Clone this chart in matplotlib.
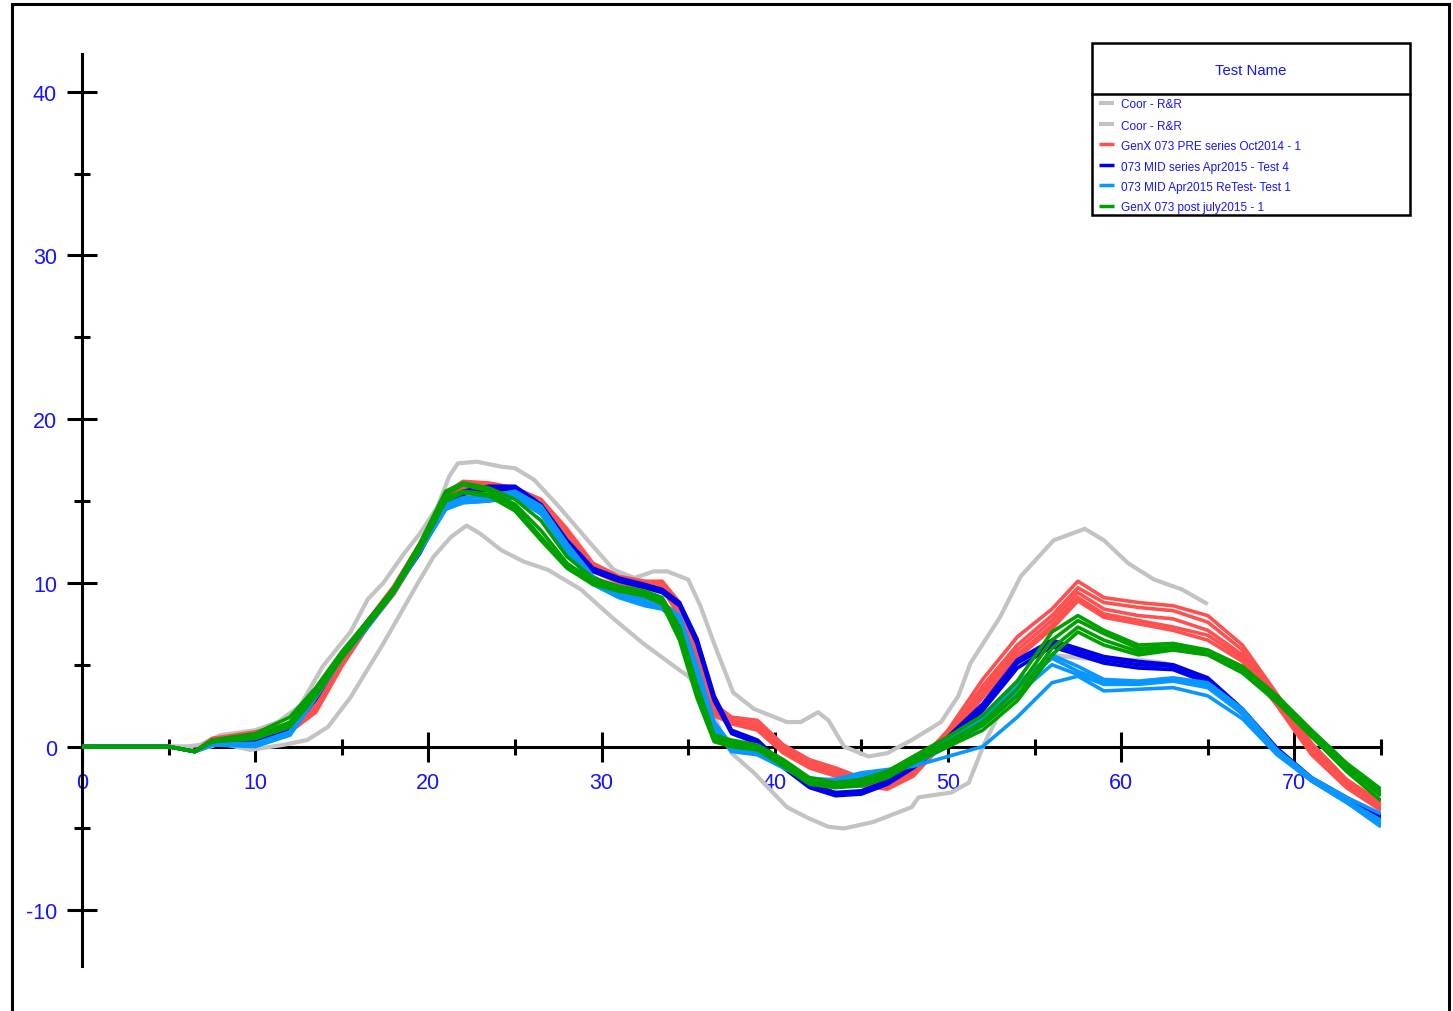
import matplotlib
matplotlib.use("Agg")
import matplotlib.pyplot as plt
from matplotlib.lines import Line2D
from matplotlib.patches import Rectangle
from matplotlib.ticker import MultipleLocator

plt.rcParams["font.family"] = ["Liberation Sans", "DejaVu Sans"]
plt.rcParams["axes.unicode_minus"] = False

W, H = 1453, 1012
TXT = "#1414ff"

# ---------------------------------------------------------------------
# Dades
# ---------------------------------------------------------------------

labels = [
    "Coor - R&R",
    "Coor - R&R",
    "GenX 073 PRE series Oct2014 - 1",
    "073 MID series Apr2015 - Test 4",
    "073 MID Apr2015 ReTest- Test 1",
    "GenX 073 post july2015 - 1",
]
colors = ["#c3c3c3", "#c3c3c3", "#ff5050", "#0000e8", "#0a96ff", "#00a000"]

# Corbes de referència (Coor - R&R)
coor_hi_x = [0, 6, 6.8, 8, 10, 11.3, 12.6, 13.9, 15.5, 16.5, 17.4, 18.6, 19.5, 20.5, 21.2,
             21.7, 22.8, 24.2, 25, 26.1, 27.5, 29.2, 30.7, 31.9, 33, 33.8, 35, 35.7, 36.6,
             37.6, 38.8, 40.7, 41.5, 42.5, 43.1, 44, 45.4, 46.5, 47.9, 49.6, 50.6, 51.3, 53,
             54.2, 56.1, 57.9, 59, 60.4, 61.9, 63.5, 65]
coor_hi_y = [0, 0, 0.1, 0.7, 1.0, 1.5, 2.5, 4.9, 7.0, 9.0, 10.0, 11.8, 13.0, 14.6, 16.5,
             17.3, 17.4, 17.1, 17.0, 16.3, 14.7, 12.6, 10.8, 10.3, 10.7, 10.7, 10.2, 8.6, 6.0,
             3.3, 2.3, 1.5, 1.5, 2.1, 1.6, 0.0, -0.6, -0.4, 0.4, 1.5, 3.1, 5.1, 7.9,
             10.4, 12.6, 13.3, 12.6, 11.2, 10.2, 9.6, 8.7]

coor_lo_x = [0, 6, 6.5, 8, 9.7, 11.6, 13, 14.2, 15.5, 17.4, 19.4, 20.3, 21.3, 22.2, 23,
             24.2, 25.5, 26.9, 28.8, 30.7, 32.4, 34.2, 35, 36.1, 36.9, 37.5, 38.8, 40.7, 42,
             43.1, 44, 45.7, 47.9, 48.3, 50.2, 51.2, 52.1, 53.2, 54.5, 56, 57.7, 59.5, 61,
             62.5, 63.9, 65]
coor_lo_y = [0, 0, -0.3, 0.2, -0.2, 0.1, 0.4, 1.2, 3.0, 6.3, 10.0, 11.6, 12.8, 13.5, 13.0,
             12.0, 11.3, 10.8, 9.6, 7.8, 6.3, 4.9, 4.3, 2.9, 0.9, -0.4, -1.6, -3.7, -4.4,
             -4.9, -5.0, -4.6, -3.7, -3.1, -2.8, -2.2, 0.2, 2.5, 4.2, 5.6, 5.4, 5.3, 5.3,
             5.1, 4.5, 4.2]

# Eix comú de les proves
t = [0, 5, 6.5, 7.5, 10, 12, 13.5, 15, 16.5, 18, 19.5, 21, 22, 23.5, 25, 26.5, 28, 29.5,
     31, 32.5, 33.5, 34.5, 35.5, 36.5, 37.5, 39, 40.5, 42, 43.5, 45, 46.5, 48, 50, 52, 54,
     56, 57.5, 59, 61, 63, 65, 67, 69, 71, 73, 75]

pre_oct2014 = [
    [0, 0, -0.3, 0.5, 0.9, 1.4, 3.0, 5.6, 7.7, 9.8, 12.4, 15.5, 16.2, 16.1, 15.8, 15.1, 13.3, 11.2, 10.4, 10.1, 10.1, 8.8, 6.0, 2.6, 1.8, 1.6, 0.1, -0.8, -1.3, -1.9, -2.2, -1.3, 1.0, 4.1, 6.7, 8.4, 10.1, 9.1, 8.8, 8.6, 8.0, 6.2, 3.2, 0.2, -2.0, -3.4],
    [0, 0, -0.3, 0.4, 0.8, 1.3, 2.8, 5.4, 7.6, 9.6, 12.2, 15.3, 16.1, 16.0, 15.6, 14.8, 13.0, 11.0, 10.3, 10.0, 10.0, 8.6, 5.7, 2.3, 1.6, 1.4, -0.1, -1.0, -1.5, -2.1, -2.4, -1.5, 0.7, 3.7, 6.2, 8.0, 9.7, 8.8, 8.5, 8.3, 7.6, 5.9, 2.9, -0.1, -2.2, -3.6],
    [0, 0, -0.3, 0.4, 0.7, 1.1, 2.5, 5.2, 7.5, 9.5, 12.1, 15.2, 16.0, 15.9, 15.5, 14.6, 12.8, 10.9, 10.2, 9.9, 9.8, 8.4, 5.5, 2.1, 1.5, 1.2, -0.2, -1.1, -1.6, -2.2, -2.5, -1.6, 0.6, 3.4, 5.9, 7.7, 9.4, 8.4, 8.0, 7.8, 7.1, 5.6, 2.7, -0.3, -2.3, -3.7],
    [0, 0, -0.3, 0.3, 0.6, 1.0, 2.3, 5.0, 7.4, 9.4, 12.0, 15.1, 15.9, 15.8, 15.4, 14.5, 12.7, 10.8, 10.1, 9.8, 9.7, 8.2, 5.3, 2.0, 1.4, 1.1, -0.3, -1.2, -1.7, -2.3, -2.5, -1.7, 0.6, 3.2, 5.6, 7.4, 9.1, 8.1, 7.7, 7.3, 6.8, 5.4, 2.6, -0.4, -2.4, -3.8],
    [0, 0, -0.3, 0.3, 0.6, 0.9, 2.1, 4.9, 7.3, 9.3, 11.9, 15.0, 15.8, 15.7, 15.3, 14.4, 12.6, 10.7, 10.0, 9.7, 9.6, 8.0, 5.1, 1.9, 1.4, 1.0, -0.4, -1.3, -1.8, -2.4, -2.6, -1.8, 0.5, 3.0, 5.4, 7.2, 8.9, 7.9, 7.5, 7.1, 6.5, 5.2, 2.5, -0.5, -2.5, -3.9],
]

mid_apr2015 = [
    [0, 0, -0.3, 0.2, 0.3, 1.1, 3.1, 5.7, 7.7, 9.6, 12.0, 15.0, 15.6, 15.9, 15.9, 14.8, 12.6, 10.9, 10.3, 9.9, 9.6, 8.8, 6.6, 3.1, 1.0, 0.4, -1.1, -2.3, -2.8, -2.7, -2.1, -1.1, 0.6, 2.6, 5.3, 6.5, 6.0, 5.5, 5.2, 5.0, 4.2, 2.3, -0.1, -1.9, -3.1, -4.2],
    [0, 0, -0.3, 0.2, 0.2, 1.0, 3.0, 5.6, 7.6, 9.6, 11.9, 14.9, 15.5, 15.8, 15.8, 14.6, 12.5, 10.8, 10.2, 9.8, 9.5, 8.7, 6.5, 3.0, 0.9, 0.3, -1.2, -2.4, -2.9, -2.8, -2.2, -1.2, 0.4, 2.4, 5.1, 6.3, 5.8, 5.3, 5.0, 4.9, 4.1, 2.2, -0.2, -2.0, -3.2, -4.3],
    [0, 0, -0.3, 0.1, 0.1, 0.9, 2.9, 5.5, 7.5, 9.5, 11.8, 14.8, 15.4, 15.7, 15.7, 14.5, 12.3, 10.7, 10.1, 9.7, 9.4, 8.6, 6.3, 2.8, 0.8, 0.2, -1.3, -2.5, -3.0, -2.9, -2.3, -1.3, 0.3, 2.2, 4.8, 6.1, 5.6, 5.1, 4.8, 4.7, 3.9, 2.0, -0.3, -2.1, -3.3, -4.4],
]

retest_apr2015 = [
    [0, 0, -0.3, 0.2, 0.2, 0.9, 3.4, 5.7, 7.5, 9.6, 12.1, 14.8, 15.2, 15.3, 15.6, 14.7, 12.4, 10.4, 9.5, 9.0, 8.8, 8.0, 5.0, 1.5, 0.1, -0.2, -1.1, -1.9, -2.1, -1.8, -1.5, -0.9, 0.4, 1.8, 3.9, 5.6, 4.9, 4.1, 4.0, 4.2, 3.9, 2.3, -0.2, -1.9, -3.1, -4.1],
    [0, 0, -0.3, 0.2, 0.1, 0.8, 3.2, 5.5, 7.4, 9.5, 12.0, 14.6, 15.0, 15.1, 15.4, 14.5, 12.2, 10.2, 9.3, 8.8, 8.6, 7.8, 4.8, 1.3, 0.0, -0.3, -1.2, -2.0, -2.2, -1.9, -1.6, -1.0, 0.2, 1.6, 3.6, 5.4, 4.6, 4.0, 3.9, 4.1, 3.8, 2.1, -0.3, -2.0, -3.3, -4.5],
    [0, 0, -0.3, 0.1, 0.1, 0.7, 3.0, 5.4, 7.3, 9.4, 11.9, 14.5, 14.9, 15.0, 15.3, 14.3, 12.0, 10.0, 9.2, 8.7, 8.5, 7.6, 4.6, 1.1, -0.2, -0.4, -1.3, -2.1, -2.3, -2.0, -1.7, -1.1, 0.0, 1.3, 3.2, 5.0, 4.4, 3.8, 3.8, 4.0, 3.6, 2.0, -0.4, -2.1, -3.4, -4.7],
    [0, 0, -0.3, 0.1, 0.0, 0.7, 3.0, 5.4, 7.3, 9.4, 11.9, 14.5, 14.9, 15.0, 15.2, 14.2, 11.9, 9.9, 9.1, 8.6, 8.4, 7.5, 4.5, 1.0, -0.3, -0.5, -1.3, -2.0, -2.0, -1.6, -1.4, -1.2, -0.6, 0.0, 1.8, 3.9, 4.3, 3.4, 3.5, 3.6, 3.1, 1.7, -0.5, -2.1, -3.4, -4.9],
]

post_jul2015 = [
    [0, 0, -0.3, 0.4, 0.8, 1.8, 3.6, 5.8, 7.7, 9.7, 12.4, 15.6, 16.1, 15.8, 15.1, 13.8, 11.6, 10.3, 9.8, 9.5, 9.1, 7.3, 3.8, 0.7, 0.4, 0.1, -0.8, -1.9, -2.2, -2.0, -1.5, -0.6, 0.6, 1.9, 4.0, 7.0, 8.0, 7.1, 6.2, 6.3, 5.9, 4.9, 3.1, 1.0, -1.0, -2.6],
    [0, 0, -0.3, 0.3, 0.6, 1.5, 3.4, 5.6, 7.6, 9.6, 12.2, 15.4, 16.0, 15.6, 14.8, 13.2, 11.2, 10.1, 9.7, 9.4, 8.9, 6.9, 3.4, 0.5, 0.2, 0.0, -1.0, -2.1, -2.4, -2.2, -1.7, -0.8, 0.3, 1.5, 3.5, 6.5, 7.7, 6.9, 6.0, 6.1, 5.8, 4.7, 2.9, 0.8, -1.2, -2.8],
    [0, 0, -0.3, 0.3, 0.5, 1.3, 3.2, 5.5, 7.5, 9.5, 12.1, 15.2, 15.6, 15.4, 14.6, 12.8, 11.0, 10.0, 9.6, 9.3, 8.8, 6.7, 3.2, 0.4, 0.1, -0.1, -1.1, -2.2, -2.5, -2.3, -1.8, -0.9, 0.2, 1.3, 3.1, 6.0, 7.3, 6.5, 5.8, 6.0, 5.7, 4.6, 2.8, 0.7, -1.3, -3.0],
    [0, 0, -0.3, 0.3, 0.5, 1.2, 3.1, 5.4, 7.4, 9.4, 12.0, 15.0, 15.5, 15.3, 14.4, 12.6, 10.9, 9.9, 9.5, 9.2, 8.7, 6.5, 3.0, 0.3, 0.0, -0.2, -1.2, -2.3, -2.5, -2.4, -1.9, -1.0, 0.0, 1.0, 2.8, 5.6, 7.0, 6.2, 5.6, 5.9, 5.6, 4.5, 2.7, 0.6, -1.5, -3.3],
]


def px(x, y):
    # coordenades en píxels -> fracció de figura
    return x / W, 1 - y / H


# ---------------------------------------------------------------------
# Gràfic
# ---------------------------------------------------------------------

fig = plt.figure(figsize=(W / 100, H / 100), dpi=100)
x0, y1 = px(82, 55)
x1, y0 = px(1381, 967)
ax = fig.add_axes([x0, y0, x1 - x0, y1 - y0])

estil = dict(solid_capstyle="butt", solid_joinstyle="round")
ax.plot(coor_hi_x, coor_hi_y, color=colors[0], lw=3.0, zorder=3, **estil)
ax.plot(coor_lo_x, coor_lo_y, color=colors[1], lw=3.0, zorder=3, **estil)

grups = [pre_oct2014, mid_apr2015, retest_apr2015, post_jul2015]
for k, grup in enumerate(grups):
    for y in grup:
        ax.plot(t, y, color=colors[k + 2], lw=2.6, zorder=4 + k, **estil)

ax.set_xlim(0, 75)
ax.set_ylim(-13.4, 42.3)

for s in ("top", "right"):
    ax.spines[s].set_visible(False)
ax.spines["left"].set_position(("data", 0))
ax.spines["bottom"].set_position(("data", 0))
for s in ("left", "bottom"):
    ax.spines[s].set_linewidth(2.2)

ax.xaxis.set_major_locator(MultipleLocator(10))
ax.xaxis.set_minor_locator(MultipleLocator(5))
ax.yaxis.set_major_locator(MultipleLocator(10))
ax.yaxis.set_minor_locator(MultipleLocator(5))
ax.tick_params(which="major", direction="inout", length=22, width=2.2,
               labelsize=15.5, labelcolor=TXT, pad=7)
ax.tick_params(which="minor", direction="inout", length=11, width=2.2)
ax.patch.set_visible(False)

# Marc exterior
fig.add_artist(Rectangle(px(12, 1030), (1449 - 12) / W, (1030 - 5) / H,
                         transform=fig.transFigure, fill=False, lw=2.2,
                         edgecolor="black", clip_on=False))

# Llegenda
lx0, ly0, lx1, ly1, ldiv = 1092, 44, 1410, 216, 95
fig.add_artist(Rectangle(px(lx0, ly1), (lx1 - lx0) / W, (ly1 - ly0) / H,
                         transform=fig.transFigure, fill=True, facecolor="white",
                         lw=1.8, edgecolor="black", zorder=10))
fig.add_artist(Line2D([lx0 / W, lx1 / W], [1 - ldiv / H, 1 - ldiv / H],
                      transform=fig.transFigure, color="black", lw=1.8, zorder=11))
fig.text(*px((lx0 + lx1) / 2, 71), "Test Name", color=TXT, fontsize=10.7,
         ha="center", va="center", zorder=12)

entry_y = [104, 125, 145, 166, 186, 207]
for lab, col, yy in zip(labels, colors, entry_y):
    lw = 3.0 if col == colors[0] else 2.5
    fig.add_artist(Line2D([1099 / W, 1114 / W], [1 - yy / H, 1 - yy / H],
                          transform=fig.transFigure, color=col, lw=lw,
                          solid_capstyle="butt", zorder=12))
    fig.text(*px(1121, yy + 1.5), lab, color=TXT, fontsize=8.5, ha="left",
             va="center", zorder=12)

fig.savefig("out.png", dpi=100)
